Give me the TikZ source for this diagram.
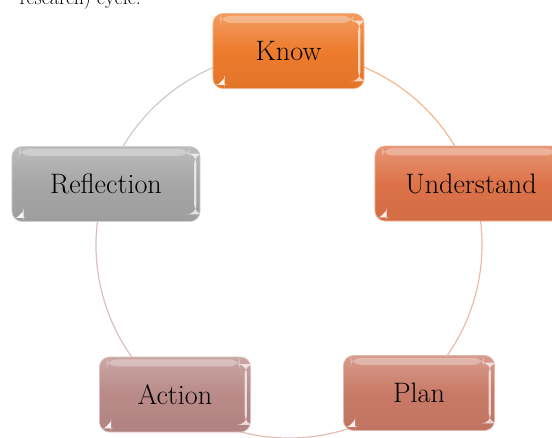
\documentclass[tikz,border=0pt]{standalone}
\usepackage{tikz}
\usetikzlibrary{positioning}
\definecolor{knowc}{HTML}{EE7B2C}
\definecolor{undc}{HTML}{DD7248}
\definecolor{planc}{HTML}{C97A66}
\definecolor{actc}{HTML}{B98A88}
\definecolor{refc}{HTML}{A6A6A6}
\begin{document}
\begin{tikzpicture}[x=0.03cm,y=-0.03cm,
 cbox/.style={rounded corners=3mm,minimum height=2.25cm,minimum width=4.53cm,inner sep=0pt,font=\fontsize{24}{28}\selectfont,text=black,
  top color=#1!75!white,bottom color=#1!95!black,middle color=#1,draw=#1!55!white,line width=0.6pt,
  path picture={\fill[white,opacity=.3] ([shift={(6pt,-2pt)}]path picture bounding box.north west) rectangle ([shift={(-9pt,-8pt)}]path picture bounding box.north east);
   \fill[white,opacity=.7] ([shift={(-5pt,-6pt)}]path picture bounding box.north east) rectangle ([shift={(-3pt,6pt)}]path picture bounding box.south east);
   \fill[white,opacity=.9] ([shift={(4pt,3pt)}]path picture bounding box.south west) -- ++(6pt,0) -- ++(0,6pt) -- cycle;}},
 arc/.style={line width=1pt}]
\useasboundingbox (0,0) rectangle (552,437);
\clip (0,0) rectangle (552,437);
\node[anchor=base east,font=\fontsize{17}{20}\selectfont] (capt) at (145,4) {research) cycle.};
\node[circle,minimum size=11.58cm,inner sep=0pt,outer sep=0pt] (ring) at (289,245) {};
\draw[arc,knowc!55!white] (ring.90) arc[start angle=90,end angle=18,radius=5.79cm];
\draw[arc,undc!50!white] (ring.18) arc[start angle=18,end angle=-54,radius=5.79cm];
\draw[arc,planc!50!white] (ring.-54) arc[start angle=-54,end angle=-126,radius=5.79cm];
\draw[arc,actc!55!white] (ring.-126) arc[start angle=-126,end angle=-198,radius=5.79cm];
\draw[arc,refc!60!white] (ring.162) arc[start angle=162,end angle=90,radius=5.79cm];
\node[cbox=knowc] (know) at (288.5,51) {Know};
\node[cbox=undc,minimum width=5.76cm] (under) at (471,183.5) {Understand};
\node[cbox=planc] (plan) at (419,393) {Plan};
\node[cbox=actc] (action) at (175,394.5) {Action};
\node[cbox=refc,minimum width=5.64cm] (refl) at (106,184) {Reflection};
\end{tikzpicture}
\end{document}
